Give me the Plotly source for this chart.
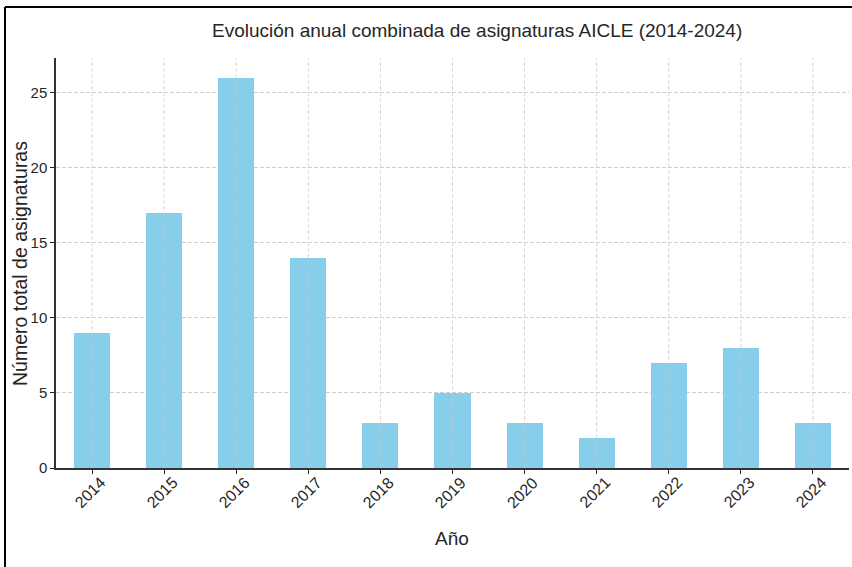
import plotly.graph_objects as go

years = ["2014", "2015", "2016", "2017", "2018", "2019", "2020", "2021", "2022", "2023", "2024"]
totals = [9, 17, 26, 14, 3, 5, 3, 2, 7, 8, 3]
y_ticks = [0, 5, 10, 15, 20, 25]

W, H = 852, 567
L, R, T, B = 56, 3, 58, 99
pw, ph = W - L - R, H - T - B

FONT = "Liberation Sans, Arial, Helvetica, sans-serif"
TXT = "#262626"
GRID = "#cfcfcf"

fig = go.Figure()
xs = list(range(len(years)))
fig.add_trace(go.Bar(x=xs, y=totals, width=0.5,
                     marker=dict(color="#87CEEB", line=dict(width=0))))

def px_x(p):
    return (p - L) / pw

def px_y(p):
    return (H - B - p) / ph

annotations = []
for i, yr in enumerate(years):
    annotations.append(dict(x=i - 0.03, xref="x", y=px_y(492), yref="paper", text=yr,
                            showarrow=False, textangle=-45,
                            font=dict(family=FONT, size=16, color=TXT),
                            xanchor="center", yanchor="middle"))
annotations.append(dict(x=px_x(452), xref="paper", y=px_y(538), yref="paper", text="Año",
                        showarrow=False, font=dict(family=FONT, size=19, color=TXT),
                        xanchor="center", yanchor="middle"))
annotations.append(dict(x=px_x(20), xref="paper", y=px_y(264), yref="paper",
                        text="Número total de asignaturas", textangle=-90,
                        showarrow=False, font=dict(family=FONT, size=19.5, color=TXT),
                        xanchor="center", yanchor="middle"))
annotations.append(dict(x=px_x(477), xref="paper", y=px_y(31), yref="paper",
                        text="Evolución anual combinada de asignaturas AICLE (2014-2024)",
                        showarrow=False, font=dict(family=FONT, size=19, color=TXT),
                        xanchor="center", yanchor="middle"))

bx, by = px_x(5), px_y(7)
shapes = [
    dict(type="line", xref="paper", yref="paper", x0=bx, x1=px_x(870), y0=by, y1=by,
         line=dict(color="black", width=2)),
    dict(type="line", xref="paper", yref="paper", x0=bx, x1=bx, y0=by, y1=px_y(580),
         line=dict(color="black", width=2)),
]
# vertical grid lines drawn above the bars (as in the reference)
for i in xs:
    shapes.append(dict(type="line", xref="x", yref="paper", x0=i, x1=i, y0=0, y1=1,
                       layer="above",
                       line=dict(color="rgba(200,200,200,0.7)", width=1, dash="4px,2px")))

fig.update_layout(
    width=W, height=H,
    margin=dict(l=L, r=R, t=T, b=B),
    paper_bgcolor="white", plot_bgcolor="white",
    showlegend=False,
    annotations=annotations,
    shapes=shapes,
    bargap=0,
    xaxis=dict(range=[-0.5, 10.5], tickmode="array", tickvals=xs,
               showticklabels=False,
               ticks="outside", ticklen=4, tickwidth=1.2, tickcolor="#222",
               showline=True, linecolor="#333", linewidth=1.5,
               showgrid=False,
               zeroline=False, fixedrange=True),
    yaxis=dict(range=[0, 27.3], tickmode="array", tickvals=y_ticks,
               ticks="outside", ticklen=4, tickwidth=1.2, tickcolor="#222",
               tickfont=dict(family=FONT, size=15, color=TXT),
               showline=True, linecolor="#333", linewidth=1.5,
               showgrid=True, gridcolor=GRID, gridwidth=1, griddash="4px,2px",
               zeroline=False, fixedrange=True),
)

fig.write_html("out.html", config={"displayModeBar": False},
               post_script="document.body.style.margin='0';document.body.style.overflow='hidden';")
